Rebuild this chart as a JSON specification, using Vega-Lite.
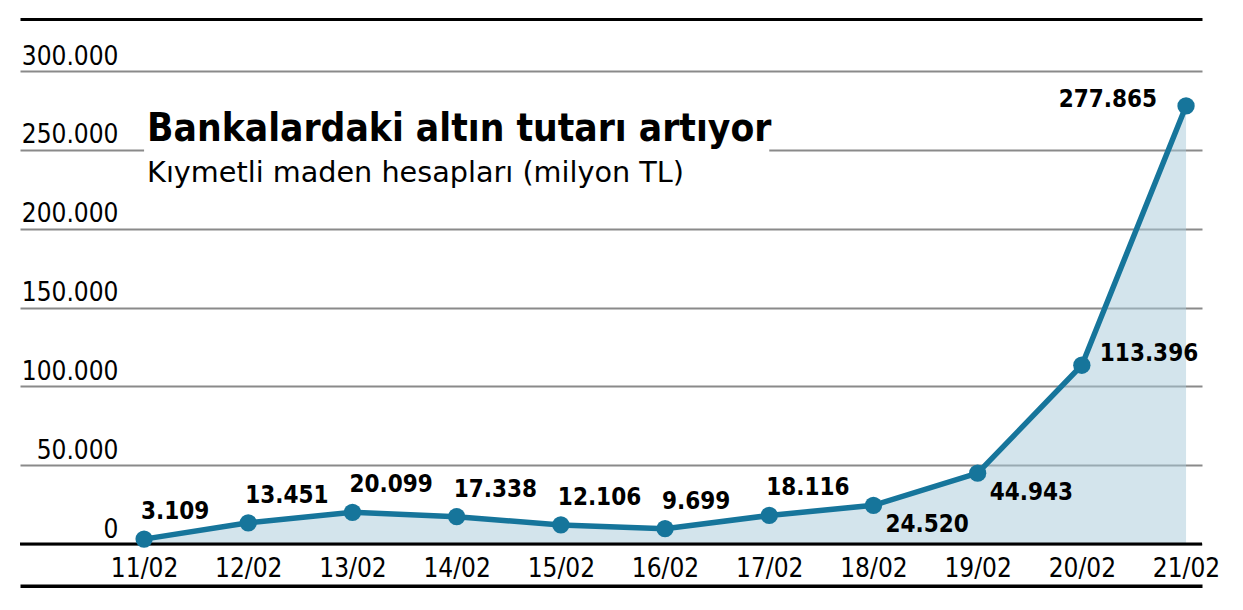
{
  "$schema": "https://vega.github.io/schema/vega-lite/v6.json",
  "width": 1182,
  "height": 525,
  "padding": {"left": 18, "top": 19, "right": 20, "bottom": 0},
  "background": "white",
  "config": {
    "view": {"stroke": null},
    "locale": {"number": {"decimal": ",", "thousands": ".", "grouping": [3], "currency": ["", " TL"]}},
    "font": "DejaVu Sans Condensed"
  },
  "datasets": {
    "seri": [
      {"tarih": "11/02", "tutar": 3109},
      {"tarih": "12/02", "tutar": 13451},
      {"tarih": "13/02", "tutar": 20099},
      {"tarih": "14/02", "tutar": 17338},
      {"tarih": "15/02", "tutar": 12106},
      {"tarih": "16/02", "tutar": 9699},
      {"tarih": "17/02", "tutar": 18116},
      {"tarih": "18/02", "tutar": 24520},
      {"tarih": "19/02", "tutar": 44943},
      {"tarih": "20/02", "tutar": 113396},
      {"tarih": "21/02", "tutar": 277865}
    ]
  },
  "layer": [
    {
      "data": {"name": "seri"},
      "mark": {"type": "area", "color": "#a7c9d9", "opacity": 0.5},
      "encoding": {
        "x": {
          "field": "tarih", "type": "ordinal", "sort": null,
          "scale": {"type": "point", "padding": 0.672, "align": 0.886},
          "axis": {
            "title": null, "orient": "bottom", "offset": 44,
            "domainColor": "black", "domainWidth": 8,
            "ticks": false, "tickSize": 0, "labelAngle": 0,
            "labelPadding": -12, "labelBaseline": "alphabetic",
            "labelFont": "DejaVu Sans Condensed", "labelFontSize": 26, "labelColor": "black",
            "grid": false
          }
        },
        "y": {
          "field": "tutar", "type": "quantitative",
          "scale": {"domain": [0, 333000], "nice": false, "zero": true},
          "axis": {
            "title": null, "orient": "left", "domain": false, "ticks": false, "tickSize": 0,
            "values": [0, 50000, 100000, 150000, 200000, 250000, 300000, 333000],
            "format": ",d",
            "labelExpr": "datum.value > 300000 ? '' : datum.label",
            "labelAlign": "right", "labelPadding": -98, "labelBaseline": "alphabetic", "labelOffset": -7,
            "labelFont": "DejaVu Sans Condensed", "labelFontSize": 26, "labelColor": "black",
            "grid": true,
            "gridColor": {"condition": {"test": "datum.value > 300000", "value": "black"}, "value": "#8a8a8a"},
            "gridWidth": {"condition": {"test": "datum.value > 300000", "value": 3}, "value": 2}
          }
        }
      }
    },
    {
      "data": {"values": [{"a": 1}]},
      "mark": {"type": "rule", "color": "black", "strokeWidth": 3},
      "encoding": {"y": {"datum": 0, "type": "quantitative"}}
    },
    {
      "data": {"values": [{"a": 1}]},
      "mark": {"type": "rect", "color": "white", "opacity": 1},
      "encoding": {
        "x": {"datum": "11/02", "type": "ordinal"},
        "x2": {"datum": "17/02"},
        "y": {"datum": 247000, "type": "quantitative"},
        "y2": {"datum": 253000}
      }
    },
    {
      "data": {"name": "seri"},
      "mark": {"type": "line", "color": "#16759b", "strokeWidth": 5.5},
      "encoding": {"x": {"field": "tarih", "type": "ordinal", "sort": null}, "y": {"field": "tutar", "type": "quantitative"}}
    },
    {
      "data": {"name": "seri"},
      "mark": {"type": "point", "filled": true, "opacity": 1, "color": "#16759b", "size": 300},
      "encoding": {"x": {"field": "tarih", "type": "ordinal", "sort": null}, "y": {"field": "tutar", "type": "quantitative"}}
    },
    {
      "data": {"name": "seri"},
      "transform": [{"filter": "indexof(['18/02','19/02','20/02','21/02'], datum.tarih) < 0"}],
      "mark": {"type": "text", "align": "left", "baseline": "alphabetic", "dx": -3, "dy": -20, "fontSize": 24, "fontWeight": "bold", "color": "black"},
      "encoding": {"x": {"field": "tarih", "type": "ordinal", "sort": null}, "y": {"field": "tutar", "type": "quantitative"}, "text": {"field": "tutar", "type": "quantitative", "format": ",d"}}
    },
    {
      "data": {"name": "seri"},
      "transform": [{"filter": "indexof(['18/02','19/02'], datum.tarih) >= 0"}],
      "mark": {"type": "text", "align": "left", "baseline": "alphabetic", "dx": 12, "dy": 27, "fontSize": 24, "fontWeight": "bold", "color": "black"},
      "encoding": {"x": {"field": "tarih", "type": "ordinal", "sort": null}, "y": {"field": "tutar", "type": "quantitative"}, "text": {"field": "tutar", "type": "quantitative", "format": ",d"}}
    },
    {
      "data": {"name": "seri"},
      "transform": [{"filter": "datum.tarih === '20/02'"}],
      "mark": {"type": "text", "align": "left", "baseline": "alphabetic", "dx": 18, "dy": -4, "fontSize": 24, "fontWeight": "bold", "color": "black"},
      "encoding": {"x": {"field": "tarih", "type": "ordinal", "sort": null}, "y": {"field": "tutar", "type": "quantitative"}, "text": {"field": "tutar", "type": "quantitative", "format": ",d"}}
    },
    {
      "data": {"name": "seri"},
      "transform": [{"filter": "datum.tarih === '21/02'"}],
      "mark": {"type": "text", "align": "right", "baseline": "alphabetic", "dx": -29, "dy": 1, "fontSize": 24, "fontWeight": "bold", "color": "black"},
      "encoding": {"x": {"field": "tarih", "type": "ordinal", "sort": null}, "y": {"field": "tutar", "type": "quantitative"}, "text": {"field": "tutar", "type": "quantitative", "format": ",d"}}
    },
    {
      "data": {"values": [{"t": "Bankalardaki altın tutarı artıyor"}]},
      "mark": {"type": "text", "align": "left", "baseline": "alphabetic", "dx": 3, "fontSize": 38.6, "fontWeight": "bold", "color": "black"},
      "encoding": {"x": {"datum": "11/02", "type": "ordinal"}, "y": {"datum": 255600, "type": "quantitative"}, "text": {"field": "t", "type": "nominal"}}
    },
    {
      "data": {"values": [{"t": "Kıymetli maden hesapları (milyon TL)"}]},
      "mark": {"type": "text", "align": "left", "baseline": "alphabetic", "dx": 3, "fontSize": 28.7, "font": "DejaVu Sans", "color": "black"},
      "encoding": {"x": {"datum": "11/02", "type": "ordinal"}, "y": {"datum": 229600, "type": "quantitative"}, "text": {"field": "t", "type": "nominal"}}
    }
  ]
}
